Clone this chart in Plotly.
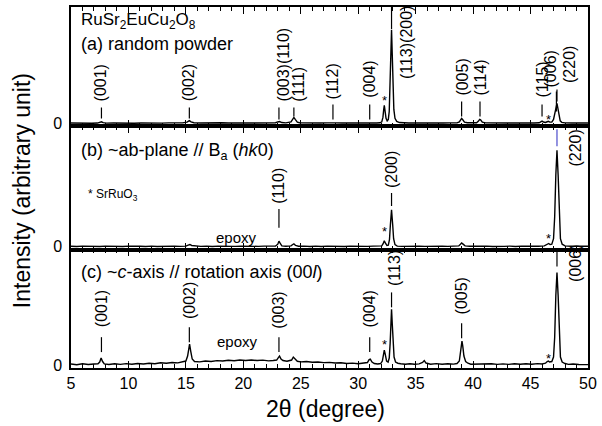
import plotly.graph_objects as go
from plotly.subplots import make_subplots

# ---------------- data ----------------
# panel (a) random powder
two_theta_a = [5.0, 5.6, 6.2, 6.8, 7.3, 7.5, 7.65, 7.8, 8.1, 8.7, 9.3, 9.9, 10.5, 11.1, 11.7, 12.3,
               12.9, 13.5, 14.1, 14.7, 15.1, 15.3, 15.45, 15.7, 16.3, 16.9, 17.5, 18.1, 18.7, 19.3,
               19.9, 20.5, 21.1, 21.7, 22.3, 22.8, 23.0, 23.15, 23.35, 23.7, 24.15, 24.3, 24.4,
               24.52, 24.7, 24.9, 25.5, 26.1, 26.7, 27.3, 27.7, 27.85, 28.0, 28.6, 29.2, 29.8,
               30.4, 30.9, 31.05, 31.2, 31.6, 31.9, 32.05, 32.15, 32.22, 32.27, 32.33, 32.42,
               32.52, 32.62, 32.7, 32.77, 32.84, 32.9, 32.96, 33.03, 33.1, 33.2, 33.35, 33.6,
               34.0, 34.4, 35.0, 35.6, 35.8, 36.2, 36.8, 37.4, 38.0, 38.6, 38.8, 38.93, 39.0,
               39.1, 39.25, 39.5, 39.9, 40.3, 40.45, 40.57, 40.65, 40.8, 41.1, 41.7, 42.3, 42.9,
               43.5, 44.1, 44.7, 45.3, 45.75, 45.9, 46.0, 46.12, 46.3, 46.45, 46.55, 46.68, 46.85,
               47.0, 47.1, 47.2, 47.3, 47.38, 47.48, 47.58, 47.72, 48.0, 48.6, 49.2, 49.7, 50.0]
counts_a = [0.3, 0.0, 0.4, 0.1, 0.3, 0.8, 1.6, 0.7, 0.2, 0.4, 0.1, 0.4, 0.1, 0.4, 0.2, 0.5,
            0.2, 0.5, 0.3, 0.5, 1.2, 2.8, 1.5, 0.6, 0.4, 0.6, 0.3, 0.6, 0.3, 0.6,
            0.3, 0.5, 0.3, 0.5, 0.3, 0.6, 1.4, 1.8, 0.8, 0.5, 1.5, 4.5, 6.0,
            4.0, 1.3, 0.6, 0.3, 0.5, 0.3, 0.5, 0.6, 0.9, 0.5, 0.3, 0.5, 0.3,
            0.5, 0.6, 0.9, 0.5, 0.4, 0.6, 1.5, 6.0, 14.0, 18.0, 13.0, 5.0,
            2.5, 4.0, 12.0, 35.0, 70.0, 94.0, 70.0, 35.0, 14.0, 5.0, 2.0, 0.8,
            0.4, 0.3, 0.5, 0.3, 0.6, 0.3, 0.5, 0.3, 0.5, 0.5, 1.5, 3.8, 5.0,
            3.6, 1.3, 0.6, 0.4, 0.6, 2.0, 4.0, 3.5, 1.2, 0.5, 0.3, 0.5, 0.3,
            0.5, 0.3, 0.5, 0.4, 0.6, 1.6, 2.2, 1.3, 0.9, 1.6, 2.0, 1.2, 1.2,
            4.0, 9.0, 16.0, 20.0, 15.0, 7.0, 2.5, 1.0, 0.5, 0.3, 0.5, 0.3, 0.4]

# panel (b) ~ab-plane // Ba
two_theta_b = [5.0, 5.5, 6.0, 6.5, 7.0, 7.5, 8.0, 8.5, 9.0, 9.5, 10.0, 10.5, 11.0, 11.5, 12.0,
               12.5, 13.0, 13.5, 14.0, 14.5, 15.0, 15.2, 15.35, 15.5, 15.8, 16.3, 16.8, 17.3,
               17.8, 18.3, 18.8, 19.3, 19.8, 20.3, 20.8, 21.3, 21.8, 22.3, 22.8, 23.0, 23.1,
               23.2, 23.35, 23.7, 24.15, 24.3, 24.4, 24.55, 24.8, 25.3, 25.8, 26.3, 26.8, 27.3,
               27.8, 28.3, 28.8, 29.3, 29.8, 30.3, 30.8, 31.3, 31.8, 32.05, 32.17, 32.27, 32.37,
               32.5, 32.62, 32.72, 32.8, 32.9, 33.0, 33.08, 33.2, 33.4, 33.8, 34.3, 34.8, 35.3,
               35.8, 36.3, 36.8, 37.3, 37.8, 38.3, 38.75, 38.9, 39.0, 39.1, 39.3, 39.7, 40.2,
               40.7, 41.2, 41.7, 42.2, 42.7, 43.2, 43.7, 44.2, 44.7, 45.2, 45.7, 46.2, 46.45,
               46.58, 46.7, 46.85, 47.0, 47.1, 47.2, 47.3, 47.4, 47.5, 47.6, 47.75, 48.0, 48.5,
               49.0, 49.5, 50.0]
counts_b = [0.5, 0.1, 0.6, 0.2, 0.5, 0.1, 0.6, 0.2, 0.5, 0.1, 0.6, 0.2, 0.5, 0.2, 0.6,
            0.2, 0.5, 0.2, 0.6, 0.3, 0.6, 1.6, 2.2, 1.2, 0.6, 0.3, 0.6, 0.2,
            0.6, 0.3, 0.6, 0.3, 0.6, 0.3, 0.6, 0.3, 0.6, 0.3, 0.6, 2.5, 5.5,
            3.5, 0.8, 0.4, 0.8, 2.2, 2.8, 1.2, 0.4, 0.6, 0.2, 0.6, 0.2, 0.6,
            0.3, 0.6, 0.2, 0.6, 0.3, 0.6, 0.3, 0.6, 0.3, 0.8, 3.0, 6.0, 3.5,
            1.2, 1.5, 7.0, 22.0, 37.0, 22.0, 8.0, 2.0, 0.6, 0.3, 0.6, 0.2, 0.6,
            0.3, 0.6, 0.2, 0.6, 0.3, 0.6, 0.8, 2.5, 3.8, 2.8, 0.8, 0.4, 0.6,
            0.3, 0.6, 0.2, 0.6, 0.3, 0.6, 0.2, 0.6, 0.3, 0.6, 0.4, 0.8, 2.0,
            3.2, 2.2, 2.5, 8.0, 30.0, 72.0, 97.0, 72.0, 30.0, 8.0, 2.5, 0.8, 0.4,
            0.6, 0.2, 0.5]

# panel (c) ~c-axis // rotation axis
two_theta_c = [5.0, 5.5, 6.0, 6.5, 7.0, 7.35, 7.5, 7.62, 7.75, 7.9, 8.3, 8.8, 9.3, 9.8, 10.3,
               10.8, 11.3, 11.8, 12.3, 12.8, 13.3, 13.8, 14.3, 14.8, 15.0, 15.15, 15.25, 15.32,
               15.42, 15.55, 15.75, 16.2, 16.7, 17.2, 17.7, 18.2, 18.7, 19.2, 19.7, 20.2, 20.7,
               21.2, 21.7, 22.2, 22.6, 22.9, 23.05, 23.15, 23.28, 23.45, 23.8, 24.2, 24.35, 24.5,
               24.7, 25.0, 25.5, 26.0, 26.5, 27.0, 27.5, 28.0, 28.5, 29.0, 29.5, 30.0, 30.5,
               30.8, 30.95, 31.05, 31.2, 31.4, 31.7, 31.95, 32.1, 32.2, 32.27, 32.35, 32.47,
               32.6, 32.7, 32.78, 32.84, 32.9, 32.96, 33.03, 33.12, 33.25, 33.45, 33.7, 34.1,
               34.5, 34.9, 35.3, 35.6, 35.75, 35.9, 36.3, 36.8, 37.3, 37.8, 38.3, 38.6, 38.8,
               38.9, 38.97, 39.03, 39.1, 39.2, 39.35, 39.55, 39.8, 40.1, 40.6, 41.1, 41.6, 42.1,
               42.6, 43.1, 43.6, 44.1, 44.6, 45.1, 45.6, 46.0, 46.3, 46.45, 46.55, 46.65, 46.85,
               47.0, 47.1, 47.2, 47.3, 47.4, 47.5, 47.6, 47.75, 48.0, 48.3, 48.7, 49.2, 49.6, 50.0]
counts_c = [1.0, 0.3, 1.2, 0.5, 1.0, 1.2, 3.0, 7.0, 3.5, 1.2, 0.5, 1.3, 0.6, 1.4, 0.8,
            1.5, 1.0, 1.8, 1.3, 2.2, 1.8, 2.6, 2.2, 3.0, 4.0, 9.0, 18.0, 21.0,
            14.0, 6.0, 3.5, 3.2, 4.0, 3.5, 4.4, 4.0, 4.8, 4.3, 5.0, 4.6, 5.1,
            4.5, 4.9, 4.2, 4.6, 5.0, 7.5, 9.0, 6.0, 4.5, 3.8, 5.0, 8.0, 6.0,
            3.8, 3.2, 3.6, 2.8, 3.1, 2.4, 2.7, 2.0, 2.3, 1.6, 1.9, 1.3, 1.6,
            2.5, 5.5, 6.0, 3.0, 1.5, 1.0, 1.5, 4.0, 10.0, 15.0, 11.0, 4.0,
            3.0, 7.0, 22.0, 42.0, 56.0, 42.0, 20.0, 8.0, 3.0, 1.8, 1.3, 0.8,
            1.3, 0.7, 1.2, 2.5, 4.5, 2.0, 0.8, 1.4, 0.8, 1.3, 0.9, 1.5, 4.0,
            11.0, 20.0, 24.0, 19.0, 9.0, 3.5, 1.8, 0.8, 0.8, 1.4, 0.7, 1.2, 0.6,
            1.1, 0.6, 1.2, 0.7, 1.3, 0.8, 1.4, 1.0, 1.8, 3.5, 4.0, 3.0, 3.5,
            8.0, 28.0, 70.0, 93.0, 70.0, 28.0, 8.0, 3.0, 1.5, 0.6, 1.0, 0.5, 0.8, 0.4]

# reflection labels: text and peak position (degree)
hkl_a = ["(001)", "(002)", "(003)(110)", "(111)", "(112)", "(004)", "(113)(200)",
         "(005)", "(114)", "(115)", "(006)", "(220)"]
hkl_a_pos = [7.65, 15.3, 23.1, 24.4, 27.8, 31.0, 32.9, 39.0, 40.6, 46.0, 47.25, 47.3]
hkl_b = ["(110)", "(200)", "(220)"]
hkl_b_pos = [23.1, 32.9, 47.3]
hkl_c = ["(001)", "(002)", "(003)", "(004)", "(113)", "(005)", "(006)"]
hkl_c_pos = [7.65, 15.3, 23.1, 31.0, 32.9, 39.0, 47.3]
impurity_pos = [32.27, 46.6]      # SrRuO3 (*)

x_ticks = [5, 10, 15, 20, 25, 30, 35, 40, 45, 50]

# ---------------- layout helpers ----------------
L, R, T, B = 71, 12, 5, 58
W, H = 602, 426
PW, PH = W - L - R, H - T - B
# panel pixel extents (top, bottom) and baseline pixel
panels = {1: (5, 125, 122), 2: (125, 249, 246), 3: (249, 368, 365)}


def py(row, ypx):
    """pixel y -> data value of that panel (1 data unit = 1 px)"""
    return panels[row][2] - ypx


def pxx(xpx):
    return 5 + (xpx - L) / PW * 45


def paper_x(xpx):
    return (xpx - L) / PW


def paper_y(ypx):
    return (H - B - ypx) / PH


fig = make_subplots(rows=3, cols=1, shared_xaxes=True, vertical_spacing=0)
FONT = "Arial, Liberation Sans, sans-serif"

for row, (xs, ys) in enumerate([(two_theta_a, counts_a), (two_theta_b, counts_b),
                                 (two_theta_c, counts_c)], start=1):
    fig.add_trace(go.Scatter(x=xs, y=ys, mode="lines",
                             line=dict(color="black", width=1.4), showlegend=False,
                             hoverinfo="skip"), row=row, col=1)

shapes = []
annotations = []


def refs(row):
    return ("x", "y") if row == 1 else (f"x{row}", f"y{row}")


def tick(row, x, y0px, y1px, color="black"):
    xr, yr = refs(row)
    shapes.append(dict(type="line", xref=xr, yref=yr, x0=x, x1=x, y0=py(row, y0px),
                       y1=py(row, y1px), line=dict(color=color, width=1.2)))


def label(row, text, x, bottom_px, size=16):
    xr, yr = refs(row)
    annotations.append(dict(text=text, x=x, y=py(row, bottom_px), xref=xr, yref=yr,
                            textangle=-90, xanchor="center", yanchor="bottom",
                            showarrow=False, font=dict(size=size, family=FONT, color="black")))


def star(row, x, ypx):
    xr, yr = refs(row)
    annotations.append(dict(text="*", x=x, y=py(row, ypx), xref=xr, yref=yr,
                            xanchor="center", yanchor="middle", showarrow=False,
                            font=dict(size=13, family=FONT, color="black")))


def xoff(x, dx):
    return pxx(L + (x - 5) / 45 * PW + dx)


# panel (a) label layout: (label x-offset px, label bottom px, tick top px, tick bottom px)
lay_a = [(0, 102, 106, 117), (0, 102, 106, 117), (5, 102, 106, 118), (5, 102, 106, 115),
         (0, 100, 103, 118), (0, 98, 103, 118), (15, 79, 4, 27), (0, 96, 100, 115),
         (0, 96, 100, 115), (0, 98, 103, 115), (-6, 88, 90, 110), (12, 83, 88, 100)]
for t, x, (dx, lb, t0, t1) in zip(hkl_a, hkl_a_pos, lay_a):
    label(1, t, xoff(x, dx), lb)
    tick(1, x, t0, t1)

lay_b = [(0, 205, 208, 227, "black"), (0, 189, 192, 205, "black"),
         (19, 167, 128, 145, "#4b4bcc")]
for t, x, (dx, lb, t0, t1, c) in zip(hkl_b, hkl_b_pos, lay_b):
    label(2, t, xoff(x, dx), lb)
    tick(2, x, t0, t1, c)

lay_c = [(0, 329, 337, 352), (0, 321, 327, 342), (0, 330, 337, 352), (0, 329, 337, 352),
         (3, 288, 292, 307), (0, 316, 323, 338), (19, 283, 250, 266)]
for t, x, (dx, lb, t0, t1) in zip(hkl_c, hkl_c_pos, lay_c):
    label(3, t, xoff(x, dx), lb)
    tick(3, x, t0, t1)

for row, ys in [(1, (99, 118)), (2, (231, 238)), (3, (344, 358))]:
    for x, ypx in zip(impurity_pos, ys):
        star(row, x, ypx)


def text(t, xpx, ypx, size, xanchor="left"):
    annotations.append(dict(text=t, x=paper_x(xpx), y=paper_y(ypx), xref="paper", yref="paper",
                            xanchor=xanchor, yanchor="middle", showarrow=False,
                            font=dict(size=size, family=FONT, color="black")))


text("RuSr<sub>2</sub>EuCu<sub>2</sub>O<sub>8</sub>", 79, 19, 17)
text("(a) random powder", 79, 42, 18)
text("(b) ~ab-plane // B<sub>a</sub> (<i>hk</i>0)", 79, 150, 18)
text("* SrRuO<sub>3</sub>", 86, 194, 12)
text("epoxy", 237, 237, 15, "center")
text("(c) ~<i>c</i>-axis // rotation axis (00<i>l</i>)", 79, 271, 18)
text("epoxy", 238, 341, 15, "center")

annotations.append(dict(text="Intensity (arbitrary unit)", x=paper_x(22), y=paper_y(190),
                        xref="paper", yref="paper", textangle=-90, showarrow=False,
                        xanchor="center", yanchor="middle",
                        font=dict(size=23, family=FONT, color="black")))
annotations.append(dict(text="2\u03b8 (degree)", x=paper_x(326), y=paper_y(409),
                        xref="paper", yref="paper", showarrow=False,
                        xanchor="center", yanchor="middle",
                        font=dict(size=23, family=FONT, color="black")))

# axes
for row in (1, 2, 3):
    top, bot, base = panels[row]
    dom = [paper_y(bot), paper_y(top)]
    fig.update_xaxes(range=[5, 50], tickvals=x_ticks, ticks="inside", ticklen=7, tickwidth=1.2,
                     minor=dict(dtick=1, tick0=5, ticks="inside", ticklen=4, tickwidth=1,
                                tickcolor="black"),
                     showline=True, linewidth=1.5, linecolor="black", mirror="allticks",
                     tickcolor="black", showgrid=False, zeroline=False,
                     showticklabels=(row == 3), tickfont=dict(size=16, family=FONT, color="black"),
                     row=row, col=1)
    fig.update_yaxes(range=[py(row, bot), py(row, top)], domain=dom, tickvals=[0],
                     ticktext=["0"], ticks="", showline=True, linewidth=1.5, linecolor="black",
                     mirror=True, showgrid=False, zeroline=False, ticklabelstandoff=4,
                     tickfont=dict(size=16, family=FONT, color="black"), row=row, col=1)

fig.update_layout(width=W, height=H, margin=dict(l=L, r=R, t=T, b=B),
                  plot_bgcolor="white", paper_bgcolor="white",
                  shapes=shapes, annotations=annotations,
                  font=dict(family=FONT, color="black"))

fig.write_html("out.html")
